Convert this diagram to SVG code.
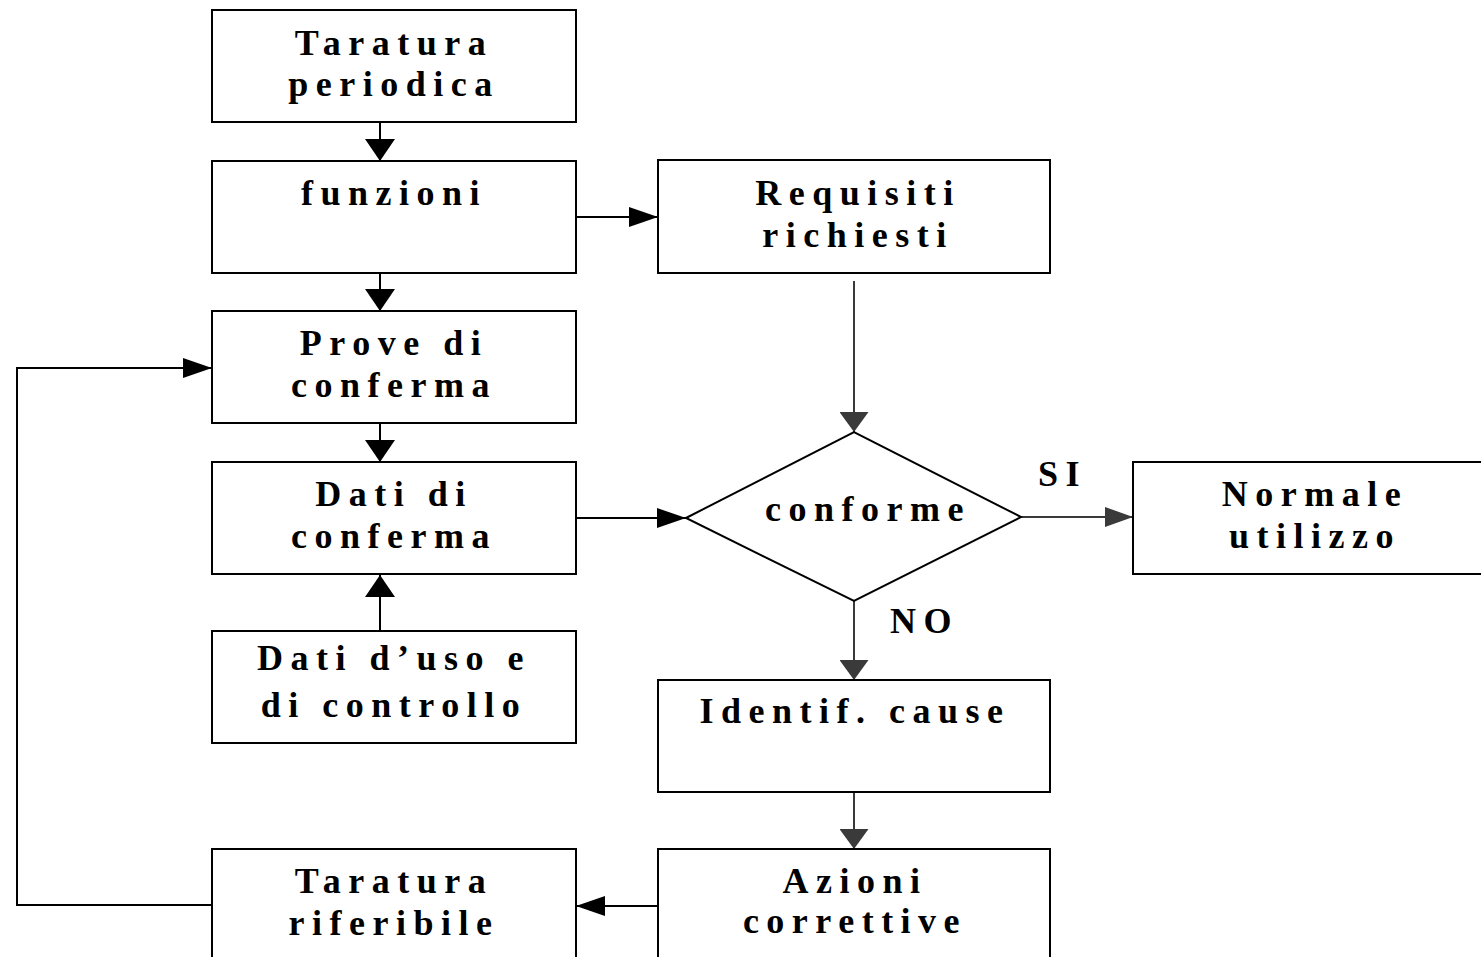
<svg xmlns="http://www.w3.org/2000/svg" width="1481" height="957" viewBox="0 0 1481 957">
<style>
.box{fill:#fff;stroke:#000;stroke-width:2}
.t{font-family:"Liberation Serif","Times New Roman",serif;font-weight:bold;font-size:36px;letter-spacing:7.5px;text-anchor:middle;fill:#000}
.lbl{font-family:"Liberation Serif","Times New Roman",serif;font-weight:bold;font-size:36px;letter-spacing:7.5px;fill:#000}
.c{fill:none;stroke:#000;stroke-width:2}
.g{fill:none;stroke:#3a3a3a;stroke-width:2}
</style>
<defs>
<marker id="avk" markerUnits="userSpaceOnUse" viewBox="0 0 22 30" refX="22" refY="15" markerWidth="22" markerHeight="30" orient="auto"><path d="M0,0 L22,15 L0,30 z" fill="#000"/></marker>
<marker id="ahk" markerUnits="userSpaceOnUse" viewBox="0 0 29 20" refX="29" refY="10" markerWidth="29" markerHeight="20" orient="auto"><path d="M0,0 L29,10 L0,20 z" fill="#000"/></marker>
<marker id="avg" markerUnits="userSpaceOnUse" viewBox="0 0 20 29" refX="20" refY="14.5" markerWidth="20" markerHeight="29" orient="auto"><path d="M0,0 L20,14.5 L0,29 z" fill="#3a3a3a"/></marker>
<marker id="ahg" markerUnits="userSpaceOnUse" viewBox="0 0 28 20" refX="28" refY="10" markerWidth="28" markerHeight="20" orient="auto"><path d="M0,0 L28,10 L0,20 z" fill="#3a3a3a"/></marker>
</defs>
<rect width="1481" height="957" fill="#fff"/>
<g id="connectors">
<path class="c" d="M380,122 V161" marker-end="url(#avk)"/>
<path class="c" d="M576,217 H658" marker-end="url(#ahk)"/>
<path class="c" d="M380,273 V311" marker-end="url(#avk)"/>
<path class="c" d="M380,423 V462" marker-end="url(#avk)"/>
<path class="c" d="M380,631 V575" marker-end="url(#avk)"/>
<path class="g" d="M854,281 V432" marker-end="url(#avg)"/>
<path class="c" d="M576,518 H686" marker-end="url(#ahk)"/>
<path class="g" d="M1021,517 H1133" marker-end="url(#ahg)"/>
<path class="g" d="M854,601 V680" marker-end="url(#avg)"/>
<path class="g" d="M854,792 V849" marker-end="url(#avg)"/>
<path class="c" d="M658,906 H576" marker-end="url(#ahk)"/>
<path class="c" d="M212,905 H17 V368 H212" marker-end="url(#ahk)"/>
<text class="lbl" x="1038" y="486">SI</text>
<text class="lbl" x="890" y="633">NO</text>
</g>
<g id="taratura-periodica">
<rect class="box" x="212" y="10" width="364" height="112"/>
<text class="t" x="394" y="55">Taratura</text>
<text class="t" x="394" y="96">periodica</text>
</g>
<g id="funzioni">
<rect class="box" x="212" y="161" width="364" height="112"/>
<text class="t" x="394" y="205">funzioni</text>
</g>
<g id="prove-di-conferma">
<rect class="box" x="212" y="311" width="364" height="112"/>
<text class="t" x="394" y="355">Prove di</text>
<text class="t" x="394" y="397">conferma</text>
</g>
<g id="dati-di-conferma">
<rect class="box" x="212" y="462" width="364" height="112"/>
<text class="t" x="394" y="506">Dati di</text>
<text class="t" x="394" y="548">conferma</text>
</g>
<g id="dati-uso">
<rect class="box" x="212" y="631" width="364" height="112"/>
<text class="t" x="394" y="670">Dati d’uso e</text>
<text class="t" x="394" y="717">di controllo</text>
</g>
<g id="taratura-riferibile">
<rect class="box" x="212" y="849" width="364" height="130"/>
<text class="t" x="394" y="893">Taratura</text>
<text class="t" x="394" y="935">riferibile</text>
</g>
<g id="requisiti">
<rect class="box" x="658" y="160" width="392" height="113"/>
<text class="t" x="858" y="205">Requisiti</text>
<text class="t" x="858" y="247">richiesti</text>
</g>
<g id="conforme">
<polygon class="box" points="686,518 854,432 1021,517 854,601"/>
<text class="t" x="868" y="521">conforme</text>
</g>
<g id="normale-utilizzo">
<rect class="box" x="1133" y="462" width="360" height="112"/>
<text class="t" x="1315" y="506">Normale</text>
<text class="t" x="1315" y="548">utilizzo</text>
</g>
<g id="identif-cause">
<rect class="box" x="658" y="680" width="392" height="112"/>
<text class="t" x="855" y="723">Identif. cause</text>
</g>
<g id="azioni-correttive">
<rect class="box" x="658" y="849" width="392" height="130"/>
<text class="t" x="855" y="893">Azioni</text>
<text class="t" x="855" y="933">correttive</text>
</g>
</svg>
